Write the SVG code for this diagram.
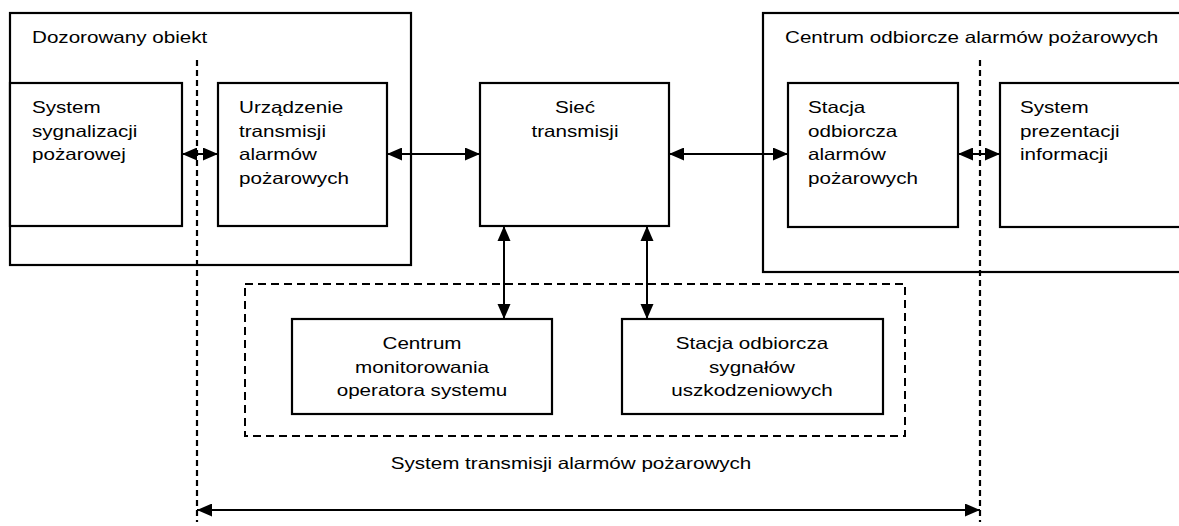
<svg xmlns="http://www.w3.org/2000/svg" width="1179" height="526" viewBox="0 0 1179 526">
  <defs>
    <style>
      .box { fill: #fff; stroke: #000; stroke-width: 2.2; }
      .outer { fill: none; stroke: #000; stroke-width: 2.2; }
      .dashbox { fill: none; stroke: #000; stroke-width: 2; stroke-dasharray: 8 5; }
      .vdash { fill: none; stroke: #000; stroke-width: 2.2; stroke-dasharray: 6 4; }
      .conn { fill: none; stroke: #000; stroke-width: 2; marker-start: url(#arrowStart); marker-end: url(#arrowEnd); }
      text { font-family: "Liberation Sans", Arial, sans-serif; font-size: 16.5px; fill: #000; }
      .c { text-anchor: middle; }
    </style>
    <marker id="arrowEnd" markerUnits="userSpaceOnUse" markerWidth="16" markerHeight="14" refX="15" refY="6.5" orient="auto">
      <path d="M0,0 L15,6.5 L0,13 z" fill="#000"/>
    </marker>
    <marker id="arrowStart" markerUnits="userSpaceOnUse" markerWidth="16" markerHeight="14" refX="0" refY="6.5" orient="auto">
      <path d="M15,0 L0,6.5 L15,13 z" fill="#000"/>
    </marker>
  </defs>
  <rect x="0" y="0" width="1179" height="526" fill="#fff"/>

  <g id="dozorowany-obiekt">
    <rect class="outer" x="10" y="13" width="401" height="252"/>
    <text transform="translate(32,43) scale(1.25,1)">Dozorowany obiekt</text>
  </g>

  <g id="centrum-odbiorcze">
    <rect class="outer" x="763" y="13" width="430" height="259"/>
    <text transform="translate(785,43) scale(1.25,1)">Centrum odbiorcze alarmów pożarowych</text>
  </g>

  <g id="system-transmisji">
    <rect class="dashbox" x="245" y="284" width="660" height="152"/>
    <text class="c" transform="translate(571,469) scale(1.25,1)">System transmisji alarmów pożarowych</text>
  </g>

  <g id="boundaries">
    <line class="vdash" x1="197" y1="60" x2="197" y2="522"/>
    <line class="vdash" x1="980" y1="60" x2="980" y2="522"/>
  </g>

  <g id="system-sygnalizacji">
    <rect class="box" x="10" y="83" width="172" height="143"/>
    <text transform="translate(32,113) scale(1.25,1)">System</text>
    <text transform="translate(32,136.5) scale(1.25,1)">sygnalizacji</text>
    <text transform="translate(32,160) scale(1.25,1)">pożarowej</text>
  </g>

  <g id="urzadzenie-transmisji">
    <rect class="box" x="218" y="83" width="169" height="143"/>
    <text transform="translate(239,113) scale(1.25,1)">Urządzenie</text>
    <text transform="translate(239,136.5) scale(1.25,1)">transmisji</text>
    <text transform="translate(239,160) scale(1.25,1)">alarmów</text>
    <text transform="translate(239,183.5) scale(1.25,1)">pożarowych</text>
  </g>

  <g id="siec-transmisji">
    <rect class="box" x="480" y="83" width="189" height="143"/>
    <text class="c" transform="translate(575,113) scale(1.25,1)">Sieć</text>
    <text class="c" transform="translate(575,136.5) scale(1.25,1)">transmisji</text>
  </g>

  <g id="stacja-odbiorcza-alarmow">
    <rect class="box" x="788" y="83" width="170" height="144"/>
    <text transform="translate(808,113) scale(1.25,1)">Stacja</text>
    <text transform="translate(808,136.5) scale(1.25,1)">odbiorcza</text>
    <text transform="translate(808,160) scale(1.25,1)">alarmów</text>
    <text transform="translate(808,183.5) scale(1.25,1)">pożarowych</text>
  </g>

  <g id="system-prezentacji">
    <rect class="box" x="1000" y="83" width="200" height="144"/>
    <text transform="translate(1020,113) scale(1.25,1)">System</text>
    <text transform="translate(1020,136.5) scale(1.25,1)">prezentacji</text>
    <text transform="translate(1020,160) scale(1.25,1)">informacji</text>
  </g>

  <g id="centrum-monitorowania">
    <rect class="box" x="292" y="319" width="260" height="95"/>
    <text class="c" transform="translate(422,349) scale(1.25,1)">Centrum</text>
    <text class="c" transform="translate(422,372.5) scale(1.25,1)">monitorowania</text>
    <text class="c" transform="translate(422,396) scale(1.25,1)">operatora systemu</text>
  </g>

  <g id="stacja-sygnalow-uszkodzeniowych">
    <rect class="box" x="622" y="319" width="261" height="95"/>
    <text class="c" transform="translate(752,349) scale(1.25,1)">Stacja odbiorcza</text>
    <text class="c" transform="translate(752,372.5) scale(1.25,1)">sygnałów</text>
    <text class="c" transform="translate(752,396) scale(1.25,1)">uszkodzeniowych</text>
  </g>

  <g id="connectors">
    <line class="conn" x1="182" y1="154" x2="218" y2="154"/>
    <line class="conn" x1="387" y1="154" x2="480" y2="154"/>
    <line class="conn" x1="669" y1="154" x2="788" y2="154"/>
    <line class="conn" x1="958" y1="154" x2="1000" y2="154"/>
    <line class="conn" x1="504" y1="226" x2="504" y2="319"/>
    <line class="conn" x1="647" y1="226" x2="647" y2="319"/>
    <line class="conn" x1="197" y1="510" x2="980" y2="510"/>
  </g>
</svg>
